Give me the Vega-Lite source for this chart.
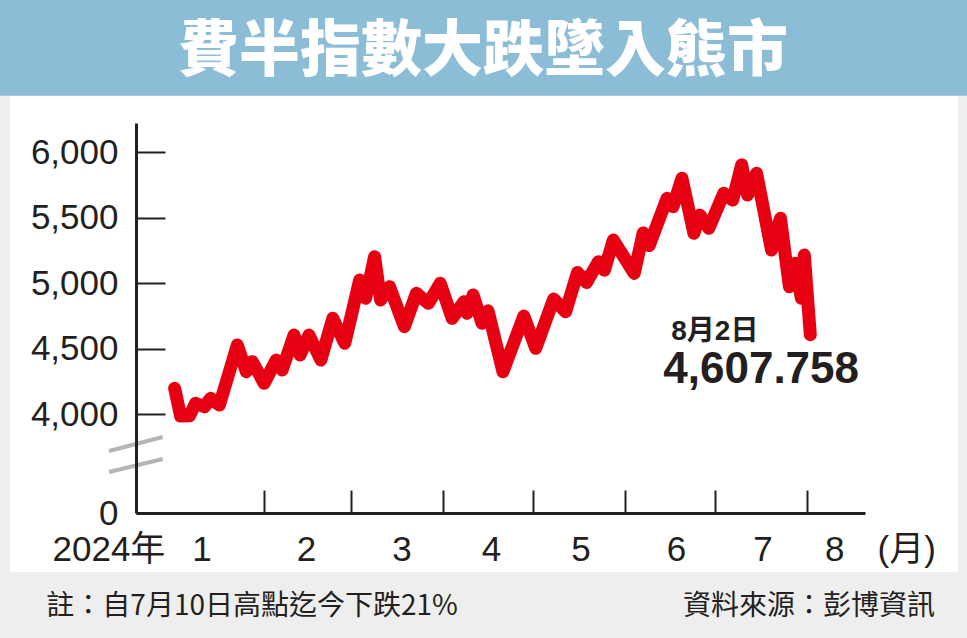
{
  "$schema": "https://vega.github.io/schema/vega-lite/v6.json",
  "width": 729,
  "height": 390,
  "autosize": {"type": "none"},
  "padding": {"left": 136, "top": 123, "right": 102, "bottom": 125},
  "background": "#eeeeee",
  "config": {"view": {"stroke": null}},
  "data": {"values": [
    {"date": "2024-01-02", "value": 4198},
    {"date": "2024-01-04", "value": 3931},
    {"date": "2024-01-07", "value": 3944},
    {"date": "2024-01-09", "value": 4084},
    {"date": "2024-01-12", "value": 4058},
    {"date": "2024-01-14", "value": 4122},
    {"date": "2024-01-17", "value": 4071},
    {"date": "2024-01-23", "value": 4529},
    {"date": "2024-01-26", "value": 4325},
    {"date": "2024-01-28", "value": 4402},
    {"date": "2024-02-01", "value": 4237},
    {"date": "2024-02-05", "value": 4414},
    {"date": "2024-02-07", "value": 4338},
    {"date": "2024-02-11", "value": 4605},
    {"date": "2024-02-13", "value": 4453},
    {"date": "2024-02-16", "value": 4605},
    {"date": "2024-02-20", "value": 4414},
    {"date": "2024-02-24", "value": 4733},
    {"date": "2024-02-28", "value": 4542},
    {"date": "2024-03-04", "value": 5025},
    {"date": "2024-03-06", "value": 4886},
    {"date": "2024-03-09", "value": 5203},
    {"date": "2024-03-11", "value": 4873},
    {"date": "2024-03-14", "value": 4974},
    {"date": "2024-03-19", "value": 4669},
    {"date": "2024-03-23", "value": 4924},
    {"date": "2024-03-27", "value": 4847},
    {"date": "2024-03-31", "value": 5000},
    {"date": "2024-04-04", "value": 4733},
    {"date": "2024-04-08", "value": 4860},
    {"date": "2024-04-09", "value": 4771},
    {"date": "2024-04-11", "value": 4911},
    {"date": "2024-04-14", "value": 4695},
    {"date": "2024-04-16", "value": 4790},
    {"date": "2024-04-21", "value": 4325},
    {"date": "2024-04-28", "value": 4750},
    {"date": "2024-05-02", "value": 4504},
    {"date": "2024-05-08", "value": 4880},
    {"date": "2024-05-12", "value": 4783},
    {"date": "2024-05-16", "value": 5083},
    {"date": "2024-05-19", "value": 5006},
    {"date": "2024-05-23", "value": 5165},
    {"date": "2024-05-25", "value": 5100},
    {"date": "2024-05-28", "value": 5330},
    {"date": "2024-06-04", "value": 5076},
    {"date": "2024-06-07", "value": 5385},
    {"date": "2024-06-09", "value": 5288},
    {"date": "2024-06-15", "value": 5649},
    {"date": "2024-06-17", "value": 5585},
    {"date": "2024-06-20", "value": 5802},
    {"date": "2024-06-24", "value": 5382},
    {"date": "2024-06-26", "value": 5521},
    {"date": "2024-06-29", "value": 5420},
    {"date": "2024-07-04", "value": 5687},
    {"date": "2024-07-07", "value": 5636},
    {"date": "2024-07-10", "value": 5904},
    {"date": "2024-07-12", "value": 5674},
    {"date": "2024-07-15", "value": 5840},
    {"date": "2024-07-20", "value": 5254},
    {"date": "2024-07-23", "value": 5496},
    {"date": "2024-07-26", "value": 4974},
    {"date": "2024-07-28", "value": 5153},
    {"date": "2024-07-30", "value": 4886},
    {"date": "2024-07-31", "value": 5216},
    {"date": "2024-08-02", "value": 4607.758}
  ]},
  "resolve": {"axis": {"x": "independent", "y": "independent"}},
  "layer": [
    {
      "data": {"values": [{}]},
      "mark": {"type": "rect", "fill": "white"},
      "encoding": {
        "x": {"datum": {"year": 2023, "month": 11, "date": 7, "hours": 19, "utc": true}, "type": "temporal", "axis": null,
              "scale": {"type": "utc", "domain": [{"year": 2023, "month": 12, "date": 20, "hours": 1, "utc": true}, {"year": 2024, "month": 8, "date": 20, "hours": 8, "utc": true}], "nice": false}},
        "x2": {"datum": {"year": 2024, "month": 9, "date": 20, "hours": 12, "utc": true}},
        "y": {"datum": 6432, "type": "quantitative", "axis": null,
              "scale": {"domain": [0, 4000, 6224], "range": [390, 291.3, 0], "nice": false, "zero": false}},
        "y2": {"datum": -2391}
      }
    },
    {
      "data": {"values": [{}]},
      "mark": {"type": "rect", "fill": "#8cbdd7"},
      "encoding": {
        "x": {"datum": {"year": 2023, "month": 10, "date": 1, "utc": true}, "type": "temporal", "axis": null,
              "scale": {"type": "utc", "domain": [{"year": 2023, "month": 12, "date": 20, "hours": 1, "utc": true}, {"year": 2024, "month": 8, "date": 20, "hours": 8, "utc": true}], "nice": false}},
        "x2": {"datum": {"year": 2024, "month": 11, "date": 1, "utc": true}},
        "y": {"datum": 6432, "type": "quantitative", "axis": null,
              "scale": {"domain": [0, 4000, 6224], "range": [390, 291.3, 0], "nice": false, "zero": false}},
        "y2": {"datum": 8000}
      }
    },
    {
      "data": {"values": [{}]},
      "mark": {"type": "text", "text": "費半指數大跌墜入熊市", "fill": "white", "font": "Noto Sans CJK TC", "fontSize": 61, "fontWeight": 900, "align": "center", "baseline": "middle"},
      "encoding": {
        "x": {"datum": {"year": 2024, "month": 4, "date": 14, "hours": 7, "utc": true}, "type": "temporal", "axis": null,
              "scale": {"type": "utc", "domain": [{"year": 2023, "month": 12, "date": 20, "hours": 1, "utc": true}, {"year": 2024, "month": 8, "date": 20, "hours": 8, "utc": true}], "nice": false}},
        "y": {"datum": 6760, "type": "quantitative", "axis": null,
              "scale": {"domain": [0, 4000, 6224], "range": [390, 291.3, 0], "nice": false, "zero": false}}
      }
    },
    {
      "data": {"values": [{}]},
      "mark": {"type": "rule", "color": "#b5b5b5", "strokeWidth": 4},
      "encoding": {
        "x": {"datum": {"year": 2023, "month": 12, "date": 11, "utc": true}, "type": "temporal", "axis": null,
              "scale": {"type": "utc", "domain": [{"year": 2023, "month": 12, "date": 20, "hours": 1, "utc": true}, {"year": 2024, "month": 8, "date": 20, "hours": 8, "utc": true}], "nice": false}},
        "x2": {"datum": {"year": 2023, "month": 12, "date": 29, "utc": true}},
        "y": {"datum": 2513, "type": "quantitative", "axis": null,
              "scale": {"domain": [0, 4000, 6224], "range": [390, 291.3, 0], "nice": false, "zero": false}},
        "y2": {"datum": 3080}
      }
    },
    {
      "data": {"values": [{}]},
      "mark": {"type": "rule", "color": "#b5b5b5", "strokeWidth": 4},
      "encoding": {
        "x": {"datum": {"year": 2023, "month": 12, "date": 11, "utc": true}, "type": "temporal", "axis": null,
              "scale": {"type": "utc", "domain": [{"year": 2023, "month": 12, "date": 20, "hours": 1, "utc": true}, {"year": 2024, "month": 8, "date": 20, "hours": 8, "utc": true}], "nice": false}},
        "x2": {"datum": {"year": 2023, "month": 12, "date": 29, "utc": true}},
        "y": {"datum": 1662, "type": "quantitative", "axis": null,
              "scale": {"domain": [0, 4000, 6224], "range": [390, 291.3, 0], "nice": false, "zero": false}},
        "y2": {"datum": 2189}
      }
    },
    {
      "mark": {"type": "line", "color": "#e60012", "strokeWidth": 13, "strokeJoin": "round", "strokeCap": "round"},
      "encoding": {
        "x": {"field": "date", "type": "temporal",
              "scale": {"type": "utc", "domain": [{"year": 2023, "month": 12, "date": 20, "hours": 1, "utc": true}, {"year": 2024, "month": 8, "date": 20, "hours": 8, "utc": true}], "nice": false},
              "axis": {"orient": "bottom", "zindex": 1, "grid": false, "labels": false,
                       "values": [{"year": 2024, "month": 2, "date": 1, "utc": true}, {"year": 2024, "month": 3, "date": 1, "utc": true}, {"year": 2024, "month": 4, "date": 1, "utc": true}, {"year": 2024, "month": 5, "date": 1, "utc": true}, {"year": 2024, "month": 6, "date": 1, "utc": true}, {"year": 2024, "month": 7, "date": 1, "utc": true}, {"year": 2024, "month": 8, "date": 1, "utc": true}],
                       "tickSize": -23, "tickWidth": 2, "tickColor": "#231f20", "domainColor": "#231f20", "domainWidth": 3,
                       "title": "2024年", "titleX": -84, "titleY": 19, "titleAlign": "left", "titleAnchor": "start", "titleBaseline": "top",
                       "titleFont": "Liberation Sans, Noto Sans CJK TC", "titleFontSize": 35, "titleFontWeight": "normal", "titleColor": "#231f20"}},
        "y": {"field": "value", "type": "quantitative",
              "scale": {"domain": [0, 4000, 6224], "range": [390, 291.3, 0], "nice": false, "zero": false},
              "axis": {"zindex": 1, "grid": false, "title": null, "values": [0, 4000, 4500, 5000, 5500, 6000], "format": ",.0f",
                       "tickSize": -29, "tickWidth": 2, "tickColor": "#231f20", "domainColor": "#231f20", "domainWidth": 3,
                       "labelPadding": 47, "labelFont": "Liberation Sans", "labelFontSize": 35, "labelColor": "#231f20", "labelOverlap": false}}
      }
    },
    {
      "transform": [{"filter": "datum.value == 4607.758"}],
      "mark": {"type": "text", "text": "8月2日", "font": "Liberation Sans, Noto Sans CJK TC", "fontSize": 28, "fontWeight": "bold", "fill": "#231f20", "align": "left", "baseline": "middle", "dx": -139, "dy": -3},
      "encoding": {
        "x": {"field": "date", "type": "temporal",
              "scale": {"type": "utc", "domain": [{"year": 2023, "month": 12, "date": 20, "hours": 1, "utc": true}, {"year": 2024, "month": 8, "date": 20, "hours": 8, "utc": true}], "nice": false},
              "axis": {"orient": "bottom", "zindex": 1, "grid": false, "domain": false, "ticks": false, "format": "%-m",
                       "values": [{"year": 2024, "month": 1, "date": 11, "utc": true}, {"year": 2024, "month": 2, "date": 15, "utc": true}, {"year": 2024, "month": 3, "date": 18, "utc": true}, {"year": 2024, "month": 4, "date": 17, "utc": true}, {"year": 2024, "month": 5, "date": 17, "utc": true}, {"year": 2024, "month": 6, "date": 18, "utc": true}, {"year": 2024, "month": 7, "date": 17, "utc": true}, {"year": 2024, "month": 8, "date": 10, "utc": true}],
                       "labelPadding": 19, "labelFont": "Liberation Sans", "labelFontSize": 35, "labelColor": "#231f20", "labelOverlap": false, "labelFlush": false,
                       "title": "(月)", "titleX": 741, "titleY": 19, "titleAlign": "left", "titleAnchor": "start", "titleBaseline": "top",
                       "titleFont": "Liberation Sans, Noto Sans CJK TC", "titleFontSize": 35, "titleFontWeight": "normal", "titleColor": "#231f20"}},
        "y": {"field": "value", "type": "quantitative", "axis": null,
              "scale": {"domain": [0, 4000, 6224], "range": [390, 291.3, 0], "nice": false, "zero": false}}
      }
    },
    {
      "transform": [{"filter": "datum.value == 4607.758"}],
      "mark": {"type": "text", "font": "Liberation Sans", "fontSize": 44, "fontWeight": "bold", "fill": "#231f20", "align": "left", "baseline": "middle", "dx": -147, "dy": 35},
      "encoding": {
        "text": {"field": "value", "type": "quantitative", "format": ",.3f"},
        "x": {"field": "date", "type": "temporal", "axis": null,
              "scale": {"type": "utc", "domain": [{"year": 2023, "month": 12, "date": 20, "hours": 1, "utc": true}, {"year": 2024, "month": 8, "date": 20, "hours": 8, "utc": true}], "nice": false}},
        "y": {"field": "value", "type": "quantitative", "axis": null,
              "scale": {"domain": [0, 4000, 6224], "range": [390, 291.3, 0], "nice": false, "zero": false}}
      }
    },
    {
      "data": {"values": [{}]},
      "mark": {"type": "text", "text": "註：自7月10日高點迄今下跌21%", "font": "Noto Sans CJK TC", "fontSize": 28, "fill": "#231f20", "align": "left", "baseline": "middle"},
      "encoding": {
        "x": {"datum": {"year": 2023, "month": 11, "date": 20, "utc": true}, "type": "temporal", "axis": null,
              "scale": {"type": "utc", "domain": [{"year": 2023, "month": 12, "date": 20, "hours": 1, "utc": true}, {"year": 2024, "month": 8, "date": 20, "hours": 8, "utc": true}], "nice": false}},
        "y": {"datum": -3810, "type": "quantitative", "axis": null,
              "scale": {"domain": [0, 4000, 6224], "range": [390, 291.3, 0], "nice": false, "zero": false}}
      }
    },
    {
      "data": {"values": [{}]},
      "mark": {"type": "text", "text": "資料來源：彭博資訊", "font": "Noto Sans CJK TC", "fontSize": 28, "fill": "#231f20", "align": "right", "baseline": "middle"},
      "encoding": {
        "x": {"datum": {"year": 2024, "month": 9, "date": 12, "hours": 19, "utc": true}, "type": "temporal", "axis": null,
              "scale": {"type": "utc", "domain": [{"year": 2023, "month": 12, "date": 20, "hours": 1, "utc": true}, {"year": 2024, "month": 8, "date": 20, "hours": 8, "utc": true}], "nice": false}},
        "y": {"datum": -3810, "type": "quantitative", "axis": null,
              "scale": {"domain": [0, 4000, 6224], "range": [390, 291.3, 0], "nice": false, "zero": false}}
      }
    }
  ]
}
